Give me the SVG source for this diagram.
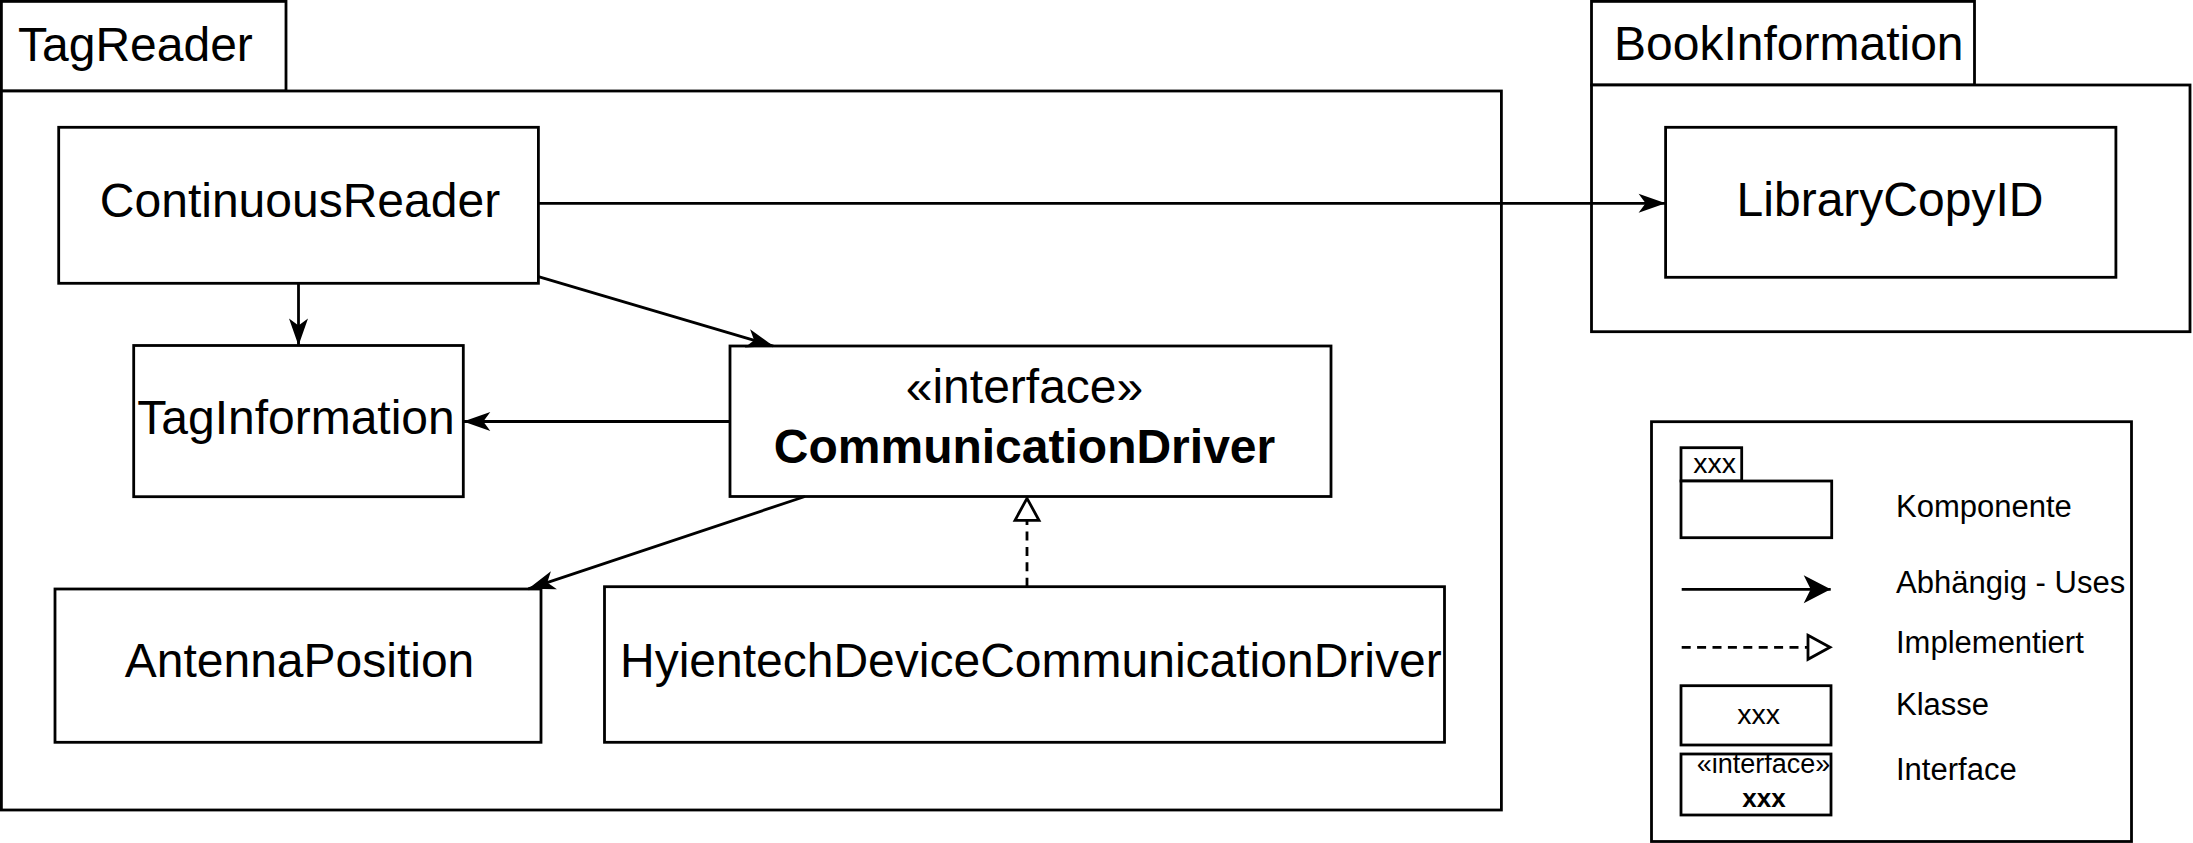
<svg xmlns="http://www.w3.org/2000/svg" width="2193" height="843" viewBox="0 0 2193 843">
<style>
  .box { fill: #ffffff; stroke: #000000; stroke-width: 2.8; }
  .lbl { font-family: "Liberation Sans", Arial, Helvetica, sans-serif; font-size: 48px; fill: #000000; }
  .ctr { text-anchor: middle; }
  .bold { font-weight: bold; }
  .leg { font-family: "Liberation Sans", Arial, Helvetica, sans-serif; font-size: 31px; fill: #000000; }
  .small { font-family: "Liberation Sans", Arial, Helvetica, sans-serif; font-size: 28.5px; fill: #000000; }
  .edge { fill: none; stroke: #000000; stroke-width: 2.8; }
  .dash { stroke-dasharray: 9 6.4; }
</style>
<defs>
  <marker id="dep" markerUnits="userSpaceOnUse" viewBox="0 0 28 20" markerWidth="28" markerHeight="20" refX="27" refY="10" orient="auto" overflow="visible">
    <path d="M0,0.5 L27,10 L0,19.5 L7,10 Z" fill="#000000" stroke="none"/>
  </marker>
  <marker id="depL" markerUnits="userSpaceOnUse" viewBox="0 0 28 28" markerWidth="28" markerHeight="28" refX="27" refY="14" orient="auto" overflow="visible">
    <path d="M0,0 L27,14 L0,28 L7,14 Z" fill="#000000" stroke="none"/>
  </marker>
  <marker id="impl" markerUnits="userSpaceOnUse" viewBox="0 0 28 28" markerWidth="28" markerHeight="28" refX="24" refY="14" orient="auto" overflow="visible">
    <path d="M2,2 L24,14 L2,26 Z" fill="#ffffff" stroke="#000000" stroke-width="2.8" stroke-linejoin="miter"/>
  </marker>
</defs>

<g id="pkg-tagreader">
  <rect class="box" x="1.4" y="1.4" width="284.6" height="89.6"/>
  <rect class="box" x="1.4" y="91" width="1500" height="719"/>
  <text class="lbl" x="18" y="61">TagReader</text>
</g>

<g id="pkg-bookinformation">
  <rect class="box" x="1591.5" y="1.4" width="383" height="83.6"/>
  <rect class="box" x="1591.5" y="85" width="598.5" height="246.7"/>
  <text class="lbl" x="1614" y="60">BookInformation</text>
</g>

<g id="node-librarycopyid">
  <rect class="box" x="1665.6" y="127.3" width="450.3" height="150"/>
  <text class="lbl ctr" x="1890" y="216">LibraryCopyID</text>
</g>

<g id="node-continuousreader">
  <rect class="box" x="58.7" y="127.3" width="479.7" height="156"/>
  <text class="lbl ctr" x="300" y="216.7">ContinuousReader</text>
</g>

<g id="node-taginformation">
  <rect class="box" x="133.7" y="345.5" width="329.6" height="151.2"/>
  <text class="lbl ctr" x="296" y="434">TagInformation</text>
</g>

<g id="node-communicationdriver">
  <rect class="box" x="730" y="346" width="601" height="150.5"/>
  <text class="lbl ctr" x="1024.5" y="403">«interface»</text>
  <text class="lbl ctr bold" x="1024.5" y="462.5">CommunicationDriver</text>
</g>

<g id="node-antennaposition">
  <rect class="box" x="55" y="589" width="486" height="153.3"/>
  <text class="lbl ctr" x="299.5" y="677.3">AntennaPosition</text>
</g>

<g id="node-hyientech">
  <rect class="box" x="604.5" y="586.7" width="840" height="155.6"/>
  <text class="lbl" x="620" y="677.3">HyientechDeviceCommunicationDriver</text>
</g>

<g id="connectors">
  <path class="edge" d="M538.4,203.3 L1665.6,203.3" marker-end="url(#dep)"/>
  <path class="edge" d="M298.5,283.3 L298.5,345.5" marker-end="url(#dep)"/>
  <path class="edge" d="M538.4,276.7 L773.3,346" marker-end="url(#dep)"/>
  <path class="edge" d="M730,421.5 L463.3,421.5" marker-end="url(#dep)"/>
  <path class="edge" d="M805,496.5 L528.3,588.8" marker-end="url(#dep)"/>
  <path class="edge dash" d="M1027,586.7 L1027,498.3" marker-end="url(#impl)"/>
</g>

<g id="legend">
  <rect class="box" x="1651.5" y="421.7" width="480" height="419.8"/>
  <g id="legend-komponente">
    <rect class="box" x="1681" y="447.7" width="60.7" height="33.3"/>
    <rect class="box" x="1681" y="481" width="150.7" height="56.7"/>
    <text class="small" x="1693.3" y="472.7">xxx</text>
    <text class="leg" x="1896" y="517.3">Komponente</text>
  </g>
  <g id="legend-uses">
    <path class="edge" d="M1681.7,589.3 L1830.7,589.3" marker-end="url(#depL)"/>
    <text class="leg" x="1896" y="592.7">Abhängig - Uses</text>
  </g>
  <g id="legend-implementiert">
    <path class="edge dash" d="M1681.7,647.3 L1830,647.3" marker-end="url(#impl)"/>
    <text class="leg" x="1896" y="653.3">Implementiert</text>
  </g>
  <g id="legend-klasse">
    <rect class="box" x="1681" y="685.7" width="150" height="59.3"/>
    <text class="small ctr" x="1758.5" y="724">xxx</text>
    <text class="leg" x="1896" y="715">Klasse</text>
  </g>
  <g id="legend-interface">
    <rect class="box" x="1681" y="754" width="150" height="61"/>
    <text class="small ctr" x="1763.5" y="773.3" style="font-size:27px">«interface»</text>
    <text class="small ctr bold" x="1764" y="807.3" style="font-size:26px">xxx</text>
    <text class="leg" x="1896" y="780">Interface</text>
  </g>
</g>
</svg>
